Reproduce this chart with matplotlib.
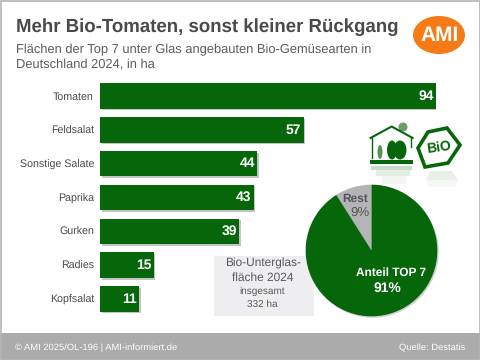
import matplotlib
matplotlib.use('Agg')
from matplotlib import pyplot as plt
from matplotlib import patches
from matplotlib import patheffects as pe

plt.rcParams['font.family'] = ['Liberation Sans', 'DejaVu Sans']
plt.rcParams['text.hinting'] = 'no_hinting'

W, H = 480, 360
GREEN = '#05660a'
TEXT = '#4a4a4a'

categories = ['Tomaten', 'Feldsalat', 'Sonstige Salate', 'Paprika', 'Gurken', 'Radies', 'Kopfsalat']
values = [94, 57, 44, 43, 39, 15, 11]
pie_labels = ['Rest', 'Anteil TOP 7']
pie_values = [9, 91]


def axes_px(fig, left, top, right, bottom, **kwargs):
    # Achsen in Pixelkoordinaten des Bildes (y von oben)
    return fig.add_axes([left / W, 1 - bottom / H, (right - left) / W, (bottom - top) / H], **kwargs)


fig = plt.figure(figsize=(4.8, 3.6), dpi=100, facecolor='white')

# Hintergrund, Fusszeile und Beschriftung
bg = axes_px(fig, 0, 0, W, H)
bg.set_xlim(0, W)
bg.set_ylim(H, 0)
bg.axis('off')
bg.set_zorder(0)
bg.add_patch(patches.Rectangle((0, 333), W, 27, color='#ababab', lw=0))
bg.add_patch(patches.Rectangle((0.5, 0.5), W - 1, H - 1, fill=False, ec='#b4b4b4', lw=1.2))
bg.add_patch(patches.Rectangle((214, 256), 100, 60, color='#eeeef0', lw=0))

bg.text(15.5, 27, 'Mehr Bio-Tomaten, sonst kleiner Rückgang', fontsize=13.4, fontweight='bold',
        color=TEXT, va='center')
bg.text(15.5, 49.5, 'Flächen der Top 7 unter Glas angebauten Bio-Gemüsearten in', fontsize=9.25,
        color='#5c5c5c', va='center')
bg.text(15.5, 64.5, 'Deutschland 2024, in ha', fontsize=9.25, color='#5c5c5c', va='center')
bg.text(15, 347.5, '© AMI 2025/OL-196 | AMI-informiert.de', fontsize=6.75, color='white', va='center')
bg.text(465, 347.5, 'Quelle: Destatis', fontsize=6.75, color='white', va='center', ha='right')

# Logo
bg.add_patch(patches.Ellipse((439, 35), 52, 38, color='#f47b16', lw=0))
bg.text(439.5, 35.5, 'AMI', fontsize=15, fontweight='bold', color='white', ha='center', va='center')

# Gewaechshaus
bg.plot([371.7, 371.7], [138, 158], color=GREEN, lw=1.0)
bg.plot([410.7, 410.7], [138, 147], color=GREEN, lw=1.0)
bg.plot([370.5, 391.7, 412.7], [138, 126.5, 138], color=GREEN, lw=1.5)
bg.add_patch(patches.Circle((403, 127), 4.5, color='#6e9a6e', lw=0))
bg.add_patch(patches.Rectangle((370, 160), 42.7, 4, color=GREEN, lw=0))
bg.add_patch(patches.Ellipse((392, 150), 10, 19, color=GREEN, lw=0))
bg.add_patch(patches.Ellipse((400, 150), 13, 19, color=GREEN, lw=0))
bg.add_patch(patches.Ellipse((380, 152), 5, 14, color='#5c8f5c', lw=0))
bg.add_patch(patches.Rectangle((371, 166), 41, 4, color='#c9dec9', lw=0))
bg.add_patch(patches.Rectangle((376, 170), 34, 6, color='#e2eee2', lw=0))
bg.add_patch(patches.Rectangle((382, 176), 24, 8, color='#f1f6f1', lw=0))

# Bio-Siegel
hexagon = [(428, 132), (447, 128), (460, 145), (448, 163), (425, 167), (418, 148)]
bg.add_patch(patches.Polygon(hexagon, closed=True, fill=False, ec=GREEN, lw=2.6))
bg.text(438.5, 148, 'BiO', fontsize=10, fontweight='bold', color=GREEN, ha='center', va='center', rotation=8)
bg.add_patch(patches.Polygon([(430, 171), (452, 171), (458, 180), (426, 180)], color='#e8f0e8', lw=0))
bg.add_patch(patches.Polygon([(426, 180), (458, 180), (456, 187), (428, 187)], color='#f4f7f4', lw=0))

# Balken
ax = axes_px(fig, 100, 79.1, 436, 315.9)
ax.patch.set_alpha(0)
ax.set_zorder(2)
ax.set_xlim(0, 94)
ax.set_ylim(6.5, -0.5)
bars = ax.barh(categories, values, height=0.755, color=GREEN, linewidth=0)
for bar in bars:
    bar.set_path_effects([pe.SimplePatchShadow(offset=(1.2, -1.2), shadow_rgbFace='#8a8a8a', alpha=0.5), pe.Normal()])
for i, value in enumerate(values):
    ax.text(value - 0.7, i, str(value), color='white', fontsize=10, fontweight='bold', ha='right', va='center')
ax.tick_params(axis='y', length=0, pad=4.3, labelsize=7.7, labelcolor=TEXT)
ax.set_xticks([])
for spine in ax.spines.values():
    spine.set_visible(False)

# Kreisdiagramm
pie_ax = axes_px(fig, 305, 184, 438, 317)
pie_ax.set_zorder(1)
wedges, _ = pie_ax.pie(pie_values, colors=['#b4b4b6', GREEN], startangle=90, counterclock=True, radius=1,
                       wedgeprops={'linewidth': 0})
wedges[1].set_path_effects([pe.SimplePatchShadow(offset=(1, -1), shadow_rgbFace='#8a8a8a', alpha=0.4), pe.Normal()])
pie_ax.set_xlim(-1.01, 1.01)
pie_ax.set_ylim(-1.01, 1.01)

# Textkasten und Prozentangaben ueber dem Kreis
top = axes_px(fig, 0, 0, W, H)
top.set_xlim(0, W)
top.set_ylim(H, 0)
top.axis('off')
top.set_zorder(3)
top.text(355, 198.5, pie_labels[0], fontsize=8.6, fontweight='bold', color='#555555', ha='center', va='center')
top.text(360, 212.5, f'{pie_values[0]}%', fontsize=9.5, color='#555555', ha='center', va='center')
top.text(391, 273, pie_labels[1], fontsize=8.6, fontweight='bold', color='white', ha='center', va='center')
top.text(387, 288.5, f'{pie_values[1]}%', fontsize=10, fontweight='bold', color='white', ha='center', va='center')
top.text(262.5, 263.5, 'Bio-Unterglas-', fontsize=8.6, color='#5a5a5a', ha='center', va='center')
top.text(262.5, 278, 'fläche 2024', fontsize=8.6, color='#5a5a5a', ha='center', va='center')
top.text(262.5, 291.5, 'insgesamt', fontsize=7.2, color='#5a5a5a', ha='center', va='center')
top.text(262.5, 304, '332 ha', fontsize=7.2, color='#5a5a5a', ha='center', va='center')

fig.savefig('out.png', dpi=100)
